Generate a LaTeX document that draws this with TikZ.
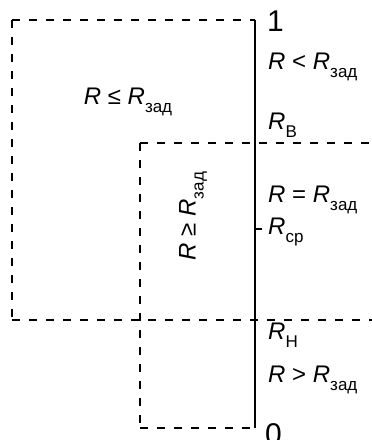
\documentclass[tikz,border=0pt]{standalone}
\usepackage{fontspec}
\setmainfont{Liberation Sans}
\newcommand\rsub[1]{\raisebox{-8pt}{\fontsize{17}{17}\selectfont #1}}
\newcommand\RR{\textit{R}}
\begin{document}
\begin{tikzpicture}[x=1pt,y=-1pt,
  dsh/.style={line width=2.2pt,dash pattern=on 8pt off 9pt},
  axis/.style={line width=2.6pt},
  lbl/.style={inner sep=0pt,anchor=base west,font=\fontsize{24}{24}\selectfont},
  dig/.style={inner sep=0pt,anchor=base west,font=\fontsize{30}{30}\selectfont}]
\useasboundingbox (0,0) rectangle (372,440);
% coordinates
\coordinate (A1) at (12,20);
\coordinate (A2) at (255,20);
\coordinate (A3) at (12,320);
\coordinate (A4) at (372,320);
\coordinate (B1) at (140,143);
\coordinate (B2) at (372,143);
\coordinate (B3) at (140,428);
\coordinate (B4) at (255,428);
\coordinate (T1) at (255,229);
\coordinate (T2) at (262,229);
% dashed boxes
\draw[dsh] (A1) -- (A2);
\draw[dsh] (A1) -- (A3);
\draw[dsh] (A3) -- (A4);
\draw[dsh] (B1) -- (B2);
\draw[dsh] (B1) -- (B3);
\draw[dsh] (B3) -- (B4);
% axis
\draw[axis] (A2) -- (B4);
\draw[line width=1.8pt] (T1) -- (T2);
% labels
\node[dig] (one) at (267,31) {1};
\node[dig] (zero) at (265,444) {0};
\node[lbl] (lt) at (268,69) {\RR{} < \RR\rsub{зад}};
\node[lbl] (rv) at (268,129) {\RR\rsub{В}};
\node[lbl] (eq) at (268,202) {\RR{} = \RR\rsub{зад}};
\node[lbl] (rc) at (268,234) {\RR\rsub{ср}};
\node[lbl] (rn) at (268,339) {\RR\rsub{Н}};
\node[lbl] (gt) at (268,382) {\RR{} > \RR\rsub{зад}};
\node[lbl,anchor=base] (le) at (128,104) {\RR{} ≤ \RR\rsub{зад}};
\node[lbl,anchor=center,rotate=90] (ge) at (193,216) {\RR{} ≥ \RR\rsub{зад}};
\end{tikzpicture}
\end{document}
